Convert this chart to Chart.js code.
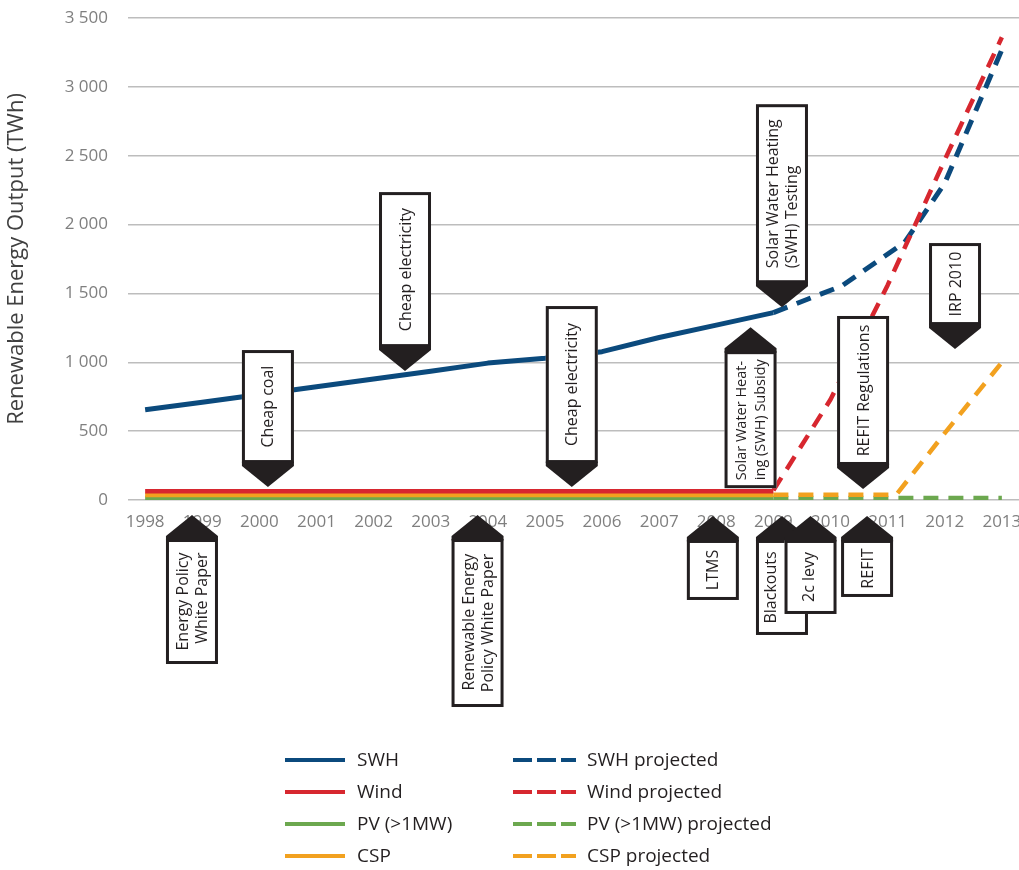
<!DOCTYPE html>
<html>
<head>
<meta charset="utf-8">
<title>Renewable Energy Output</title>
<script src="https://cdn.jsdelivr.net/npm/chart.js@4.4.1/dist/chart.umd.min.js"></script>
<style>
  html, body { margin: 0; padding: 0; background: #fff; }
  #wrap { width: 1019px; height: 870px; }
</style>
</head>
<body>
<div id="wrap"><canvas id="chart"></canvas></div>
<script>
// ---- data (TWh) ----
const years = [1998, 1999, 2000, 2001, 2002, 2003, 2004, 2005, 2006, 2007, 2008, 2009, 2010, 2011, 2012, 2013];
const histYears = [1998, 1999, 2000, 2001, 2002, 2003, 2004, 2005, 2006, 2007, 2008, 2009];

const swh  = [655, 710, 766, 822, 878, 935, 994, 1029, 1077, 1180, 1270, 1361];
const wind = [64, 64, 64, 64, 64, 64, 64, 64, 64, 64, 64, 64];
const pv   = [15, 15, 15, 15, 15, 15, 15, 15, 15, 15, 15, 15];
const csp  = [36, 36, 36, 36, 36, 36, 36, 36, 36, 36, 36, 36];

// projections start where the history ends
const swhProjYears  = [2009, 2010.2, 2011.3, 2012, 2013];
const swhProj       = [1361, 1555, 1872, 2300, 3270];
const windProjYears = [2009, 2010, 2011, 2012, 2013];
const windProj      = [70, 730, 1560, 2470, 3360];
const pvProjYears   = [2009, 2010, 2011, 2012, 2013];
const pvProj        = [15, 15, 15, 15, 15];
const cspProjYears  = [2009, 2010, 2011.15, 2012, 2013];
const cspProj       = [38, 38, 38, 485, 1000];

const yTicks = [0, 500, 1000, 1500, 2000, 2500, 3000, 3500];

// policy events: arrow tip sits at (year, value)
const callouts = [
  { lines: ['Cheap coal'], year: 2000.15, value: 94, dir: 'down', length: 113 },
  { lines: ['Cheap electricity'], year: 2002.55, value: 936, dir: 'down', length: 155 },
  { lines: ['Cheap electricity'], year: 2005.47, value: 94, dir: 'down', length: 157 },
  { lines: ['Solar Water Heating', '(SWH) Testing'], year: 2009.15, value: 1400, dir: 'down', length: 179, align: 'start' },
  { lines: ['Solar Water Heat-', 'ing (SWH) Subsidy'], year: 2008.6, value: 1255, dir: 'up', length: 137, align: 'start' },
  { lines: ['REFIT Regulations'], year: 2010.57, value: 80, dir: 'down', length: 149 },
  { lines: ['IRP 2010'], year: 2012.18, value: 1096, dir: 'down', length: 82 },
  { lines: ['Energy Policy', 'White Paper'], year: 1998.82, value: -109, dir: 'up', length: 125, align: 'end' },
  { lines: ['Renewable Energy', 'Policy White Paper'], year: 2003.82, value: -109, dir: 'up', length: 168, align: 'end' },
  { lines: ['LTMS'], year: 2007.94, value: -116, dir: 'up', length: 60 },
  { lines: ['Blackouts'], year: 2009.15, value: -116, dir: 'up', length: 95, textShift: -12 },
  { lines: ['2c levy'], year: 2009.65, value: -116, dir: 'up', length: 74, textShift: -2 },
  { lines: ['REFIT'], year: 2010.64, value: -116, dir: 'up', length: 57 }
];

// ---- styles ----
const COLORS = {
  swh: '#0b4a7d',
  wind: '#d7272f',
  pv: '#6ca84f',
  csp: '#f2a11f'
};
const INK = '#231f20';
const FONT = '"Open Sans", "DejaVu Sans", sans-serif';
const DASH = [15, 10];

function points(xs, ys) {
  return xs.map((x, i) => ({ x: x, y: ys[i] }));
}

function series(label, xs, ys, color, projected) {
  return {
    label: label,
    data: points(xs, ys),
    borderColor: color,
    backgroundColor: color,
    borderWidth: 4.5,
    borderDash: projected ? DASH : [],
    borderCapStyle: 'butt',
    borderJoinStyle: 'round',
    pointRadius: 0,
    pointHoverRadius: 0,
    tension: 0,
    fill: false,
    projected: projected
  };
}

// SWH gets a slightly heavier stroke
const swhSet = series('SWH', histYears, swh, COLORS.swh, false);
swhSet.borderWidth = 5;
const swhProjSet = series('SWH projected', swhProjYears, swhProj, COLORS.swh, true);
swhProjSet.borderWidth = 5;

// ---- callout boxes with arrow heads ----
function drawCallout(ctx, tx, ty, c) {
  const half = 26;          // outer half width of the box
  const arrow = 24;         // tip to box edge
  const shoulder = 3;
  const sign = c.dir === 'down' ? -1 : 1;
  const edge = ty + sign * arrow;
  const far = edge + sign * c.length;
  const top = Math.min(edge, far);
  const bottom = Math.max(edge, far);

  ctx.save();
  ctx.fillStyle = '#fff';
  ctx.fillRect(tx - half, top, half * 2, bottom - top);
  ctx.strokeStyle = INK;
  ctx.lineWidth = 3;
  ctx.strokeRect(tx - half + 1.5, top + 1.5, half * 2 - 3, bottom - top - 3);

  ctx.fillStyle = INK;
  ctx.beginPath();
  ctx.moveTo(tx, ty);
  ctx.lineTo(tx + half, edge - sign * shoulder);
  ctx.lineTo(tx + half, edge + sign * 1.5);
  ctx.lineTo(tx - half, edge + sign * 1.5);
  ctx.lineTo(tx - half, edge - sign * shoulder);
  ctx.closePath();
  ctx.fill();

  // rotated text, reading bottom to top; shrink if it would not fit the box
  ctx.translate(tx + (c.textShift || 0), (top + bottom) / 2);
  ctx.rotate(-Math.PI / 2);
  let size = 16;
  ctx.font = size + 'px ' + FONT;
  let maxW = Math.max.apply(null, c.lines.map(l => ctx.measureText(l).width));
  const room = c.length - 16;
  if (maxW > room) {
    size = size * room / maxW;
    ctx.font = size + 'px ' + FONT;
    maxW = Math.max.apply(null, c.lines.map(l => ctx.measureText(l).width));
  }
  ctx.fillStyle = INK;
  ctx.textBaseline = 'middle';
  const lh = 19;
  c.lines.forEach((line, i) => {
    const yy = (i - (c.lines.length - 1) / 2) * lh + 1;
    if (c.align === 'start') {
      ctx.textAlign = 'left';
      ctx.fillText(line, -maxW / 2, yy);
    } else if (c.align === 'end') {
      ctx.textAlign = 'right';
      ctx.fillText(line, maxW / 2, yy);
    } else {
      ctx.textAlign = 'center';
      ctx.fillText(line, 0, yy);
    }
  });
  ctx.restore();
}

const calloutPlugin = {
  id: 'callouts',
  afterDatasetsDraw(chart) {
    const xs = chart.scales.x;
    const ys = chart.scales.y;
    callouts.forEach(c => {
      drawCallout(chart.ctx, xs.getPixelForValue(c.year), ys.getPixelForValue(c.value), c);
    });
  }
};

// ---- two column legend: history left, projections right ----
const legendRows = ['SWH', 'Wind', 'PV (>1MW)', 'CSP'];
const legendPlugin = {
  id: 'twoColumnLegend',
  afterDraw(chart) {
    const ctx = chart.ctx;
    const cols = [
      { x: 285, len: 60, text: 357, dash: [] },
      { x: 513, len: 63, text: 587, dash: [19, 5] }
    ];
    ctx.save();
    ctx.font = '19px ' + FONT;
    ctx.textBaseline = 'middle';
    ctx.textAlign = 'left';
    chart.data.datasets.forEach(ds => {
      const col = cols[ds.projected ? 1 : 0];
      const base = ds.projected ? ds.label.replace(' projected', '') : ds.label;
      const row = legendRows.indexOf(base);
      const y = 760 + row * 32;
      ctx.strokeStyle = ds.borderColor;
      ctx.lineWidth = 4;
      ctx.setLineDash(col.dash);
      ctx.beginPath();
      ctx.moveTo(col.x, y);
      ctx.lineTo(col.x + col.len, y);
      ctx.stroke();
      ctx.setLineDash([]);
      ctx.fillStyle = INK;
      ctx.fillText(ds.label, col.text, y + 1);
    });
    ctx.restore();
  }
};

function spaced(v) {
  return String(v).replace(/\B(?=(\d{3})+(?!\d))/g, ' ');
}

new Chart(document.getElementById('chart'), {
  type: 'line',
  data: {
    datasets: [
      swhSet,
      series('Wind', histYears, wind, COLORS.wind, false),
      series('CSP', histYears, csp, COLORS.csp, false),
      series('PV (>1MW)', histYears, pv, COLORS.pv, false),
      series('Wind projected', windProjYears, windProj, COLORS.wind, true),
      swhProjSet,
      series('CSP projected', cspProjYears, cspProj, COLORS.csp, true),
      series('PV (>1MW) projected', pvProjYears, pvProj, COLORS.pv, true)
    ]
  },
  options: {
    responsive: true,
    maintainAspectRatio: false,
    animation: false,
    layout: { padding: { top: 18, right: 0, bottom: 0, left: 0 } },
    plugins: {
      legend: { display: false },
      tooltip: { enabled: false }
    },
    scales: {
      x: {
        type: 'linear',
        min: 1997.7,
        max: 2013.3,
        grid: { display: false },
        border: { display: false },
        afterBuildTicks: s => { s.ticks = years.map(v => ({ value: v })); },
        ticks: {
          color: '#7f7f7f',
          font: { family: FONT, size: 17 },
          padding: 4,
          autoSkip: false,
          maxRotation: 0,
          callback: v => String(v)
        },
        afterFit: s => { s.height = 370; s.paddingLeft = 0; s.paddingRight = 0; }
      },
      y: {
        min: 0,
        max: 3500,
        afterBuildTicks: s => { s.ticks = yTicks.map(v => ({ value: v })); },
        grid: { color: '#bdbdbd', lineWidth: 1.5, drawTicks: false },
        border: { display: false },
        ticks: {
          color: '#7f7f7f',
          font: { family: FONT, size: 17 },
          padding: 20,
          callback: v => spaced(v)
        },
        title: {
          display: true,
          text: 'Renewable Energy Output (TWh)',
          color: '#404040',
          font: { family: FONT, size: 22 },
          padding: { top: 4, bottom: 0 }
        },
        afterFit: s => { s.width = 128; s.paddingTop = 0; s.paddingBottom = 0; }
      }
    }
  },
  plugins: [calloutPlugin, legendPlugin]
});
</script>
</body>
</html>
